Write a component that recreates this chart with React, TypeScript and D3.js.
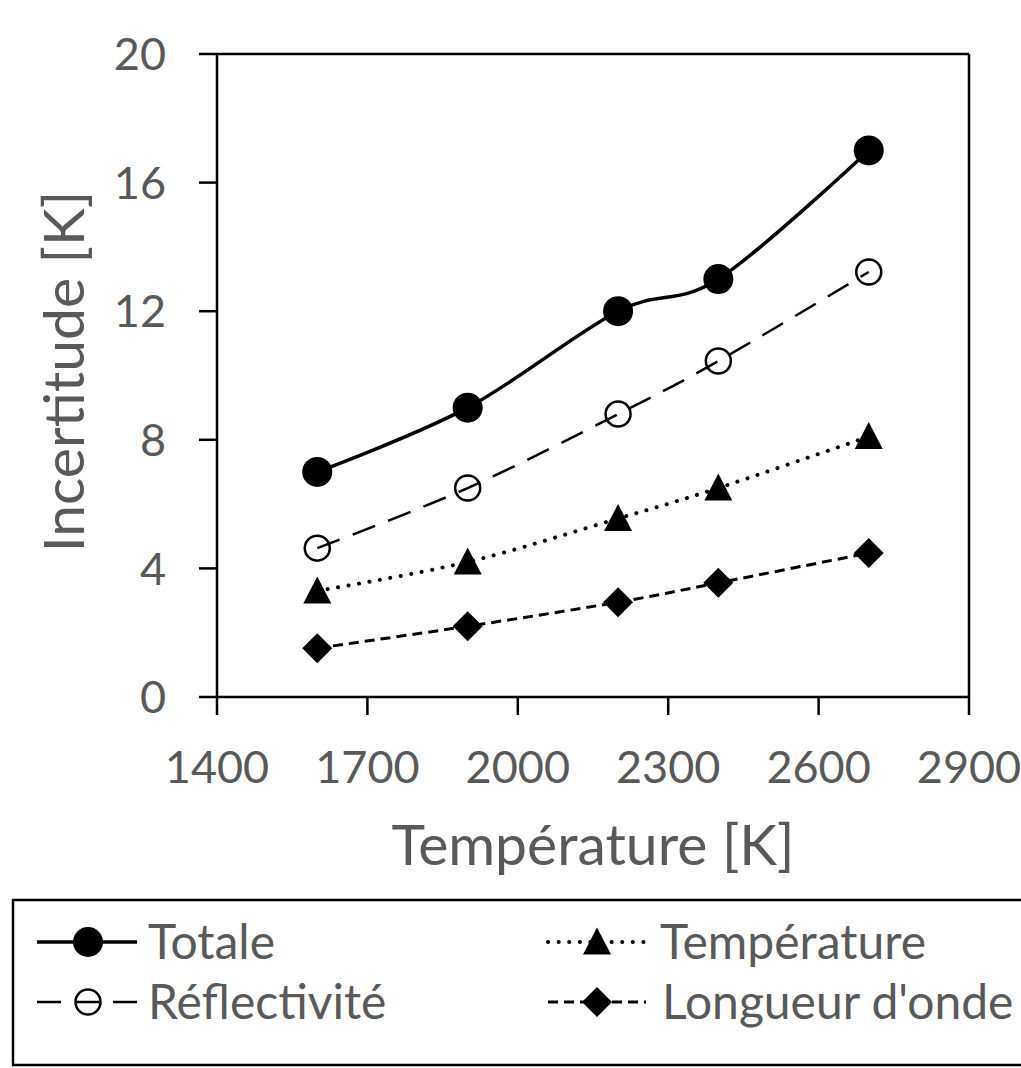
import React from "react";
import * as d3 from "d3";

const temperatures = [1600, 1900, 2200, 2400, 2700];
const totale = [7.0, 9.0, 12.0, 13.0, 17.0];
const reflectivite = [4.63, 6.5, 8.8, 10.45, 13.22];
const temperature = [3.3, 4.2, 5.55, 6.5, 8.1];
const longueur = [1.52, 2.2, 2.95, 3.55, 4.48];
const xTicks = [1400, 1700, 2000, 2300, 2600, 2900];
const yTicks = [0, 4, 8, 12, 16, 20];
const seriesNames = ["Totale", "Réflectivité", "Température", "Longueur d'onde"];

const W = 1021;
const H = 1068;
const L = 217, R = 969, T = 54, B = 697;
const GRAY = "#595959";
const FONT = "Lato, 'Open Sans', sans-serif";

type Series = {
  name: string;
  values: number[];
  dash: string | undefined;
  width: number;
  marker: "circle" | "ocircle" | "triangle" | "diamond";
  cap: "butt" | "round";
};

const series: Series[] = [
  { name: seriesNames[0], values: totale, dash: undefined, width: 3.5, marker: "circle", cap: "butt" },
  { name: seriesNames[1], values: reflectivite, dash: "24,14", width: 2.5, marker: "ocircle", cap: "butt" },
  { name: seriesNames[2], values: temperature, dash: "0.1,10.5", width: 4, marker: "triangle", cap: "round" },
  { name: seriesNames[3], values: longueur, dash: "10,6", width: 3, marker: "diamond", cap: "butt" },
];

function Marker({ kind, x, y }: { kind: Series["marker"]; x: number; y: number }) {
  if (kind === "circle") return <circle cx={x} cy={y} r={15} fill="#000" />;
  if (kind === "ocircle")
    return <circle cx={x} cy={y} r={12.5} fill="none" stroke="#000" strokeWidth={2.5} />;
  if (kind === "triangle") {
    const s = 28;
    const h = 27;
    return (
      <path
        d={`M${x},${y - h / 2 - 1}L${x + s / 2},${y + h / 2 - 1}L${x - s / 2},${y + h / 2 - 1}Z`}
        fill="#000"
      />
    );
  }
  const r = 15;
  return <path d={`M${x},${y - r}L${x + r},${y}L${x},${y + r}L${x - r},${y}Z`} fill="#000" />;
}

export default function App() {
  const x = d3.scaleLinear().domain([1400, 2900]).range([L, R]);
  const y = d3.scaleLinear().domain([0, 20]).range([B, T]);
  const line = d3
    .line<number>()
    .x((_, i) => x(temperatures[i]))
    .y((d) => y(d))
    .curve(d3.curveCatmullRom.alpha(0));

  const tickLen = 18;
  const axisW = 2.5;

  const legendRows = [
    { s: series[0], lx: 37, rx: 137, mx: 88, tx: 148, cy: 942 },
    { s: series[1], lx: 37, rx: 137, mx: 88, tx: 148, cy: 1002 },
    { s: series[2], lx: 548, rx: 644, mx: 597, tx: 660, cy: 942 },
    { s: series[3], lx: 548, rx: 646, mx: 597, tx: 662, cy: 1002 },
  ];

  return (
    <svg
      width={W}
      height={H}
      style={{ position: "absolute", left: 0, top: 0, background: "#fff" }}
      fontFamily={FONT}
    >
      <rect x={0} y={0} width={W} height={H} fill="#fff" />
      {/* plot border & axes */}
      <g stroke="#000" strokeWidth={axisW} fill="none">
        <line x1={L} y1={T} x2={R} y2={T} />
        <line x1={R} y1={T} x2={R} y2={B} />
        <line x1={L} y1={T} x2={L} y2={B} />
        <line x1={L} y1={B} x2={R} y2={B} />
        {yTicks.map((t) => (
          <line key={"yt" + t} x1={L - tickLen} x2={L} y1={y(t)} y2={y(t)} />
        ))}
        {xTicks.map((t) => (
          <line key={"xt" + t} x1={x(t)} x2={x(t)} y1={B} y2={B + tickLen} />
        ))}
      </g>
      {/* tick labels */}
      <g fill={GRAY} fontSize={45}>
        {yTicks.map((t) => (
          <text key={"yl" + t} x={166} y={y(t)} dy="0.36em" textAnchor="end">
            {t}
          </text>
        ))}
        {xTicks.map((t) => (
          <text key={"xl" + t} x={x(t)} y={783} textAnchor="middle">
            {t}
          </text>
        ))}
      </g>
      {/* axis titles */}
      <text x={(L + R) / 2} y={865} textAnchor="middle" fill={GRAY} fontSize={57}>
        Température [K]
      </text>
      <text
        transform={`translate(84, ${(T + B) / 2 - 4}) rotate(-90)`}
        textAnchor="middle"
        fill={GRAY}
        fontSize={57}
      >
        Incertitude [K]
      </text>
      {/* series */}
      {series.map((s) => (
        <g key={s.name}>
          <path
            d={line(s.values) || ""}
            fill="none"
            stroke="#000"
            strokeWidth={s.width}
            strokeDasharray={s.dash}
            strokeLinecap={s.cap}
          />
          {s.values.map((v, i) => (
            <Marker key={i} kind={s.marker} x={x(temperatures[i])} y={y(v)} />
          ))}
        </g>
      ))}
      {/* legend */}
      <rect x={13} y={900} width={1040} height={165} fill="none" stroke="#000" strokeWidth={2.5} />
      {legendRows.map((r) => (
        <g key={r.s.name}>
          <line
            x1={r.lx}
            x2={r.rx}
            y1={r.cy}
            y2={r.cy}
            stroke="#000"
            strokeWidth={r.s.width}
            strokeDasharray={r.s.dash}
            strokeLinecap={r.s.cap}
          />
          <Marker kind={r.s.marker} x={r.mx} y={r.cy} />
          <text x={r.tx} y={r.cy} dy="0.36em" fill={GRAY} fontSize={48}>
            {r.s.name}
          </text>
        </g>
      ))}
    </svg>
  );
}
